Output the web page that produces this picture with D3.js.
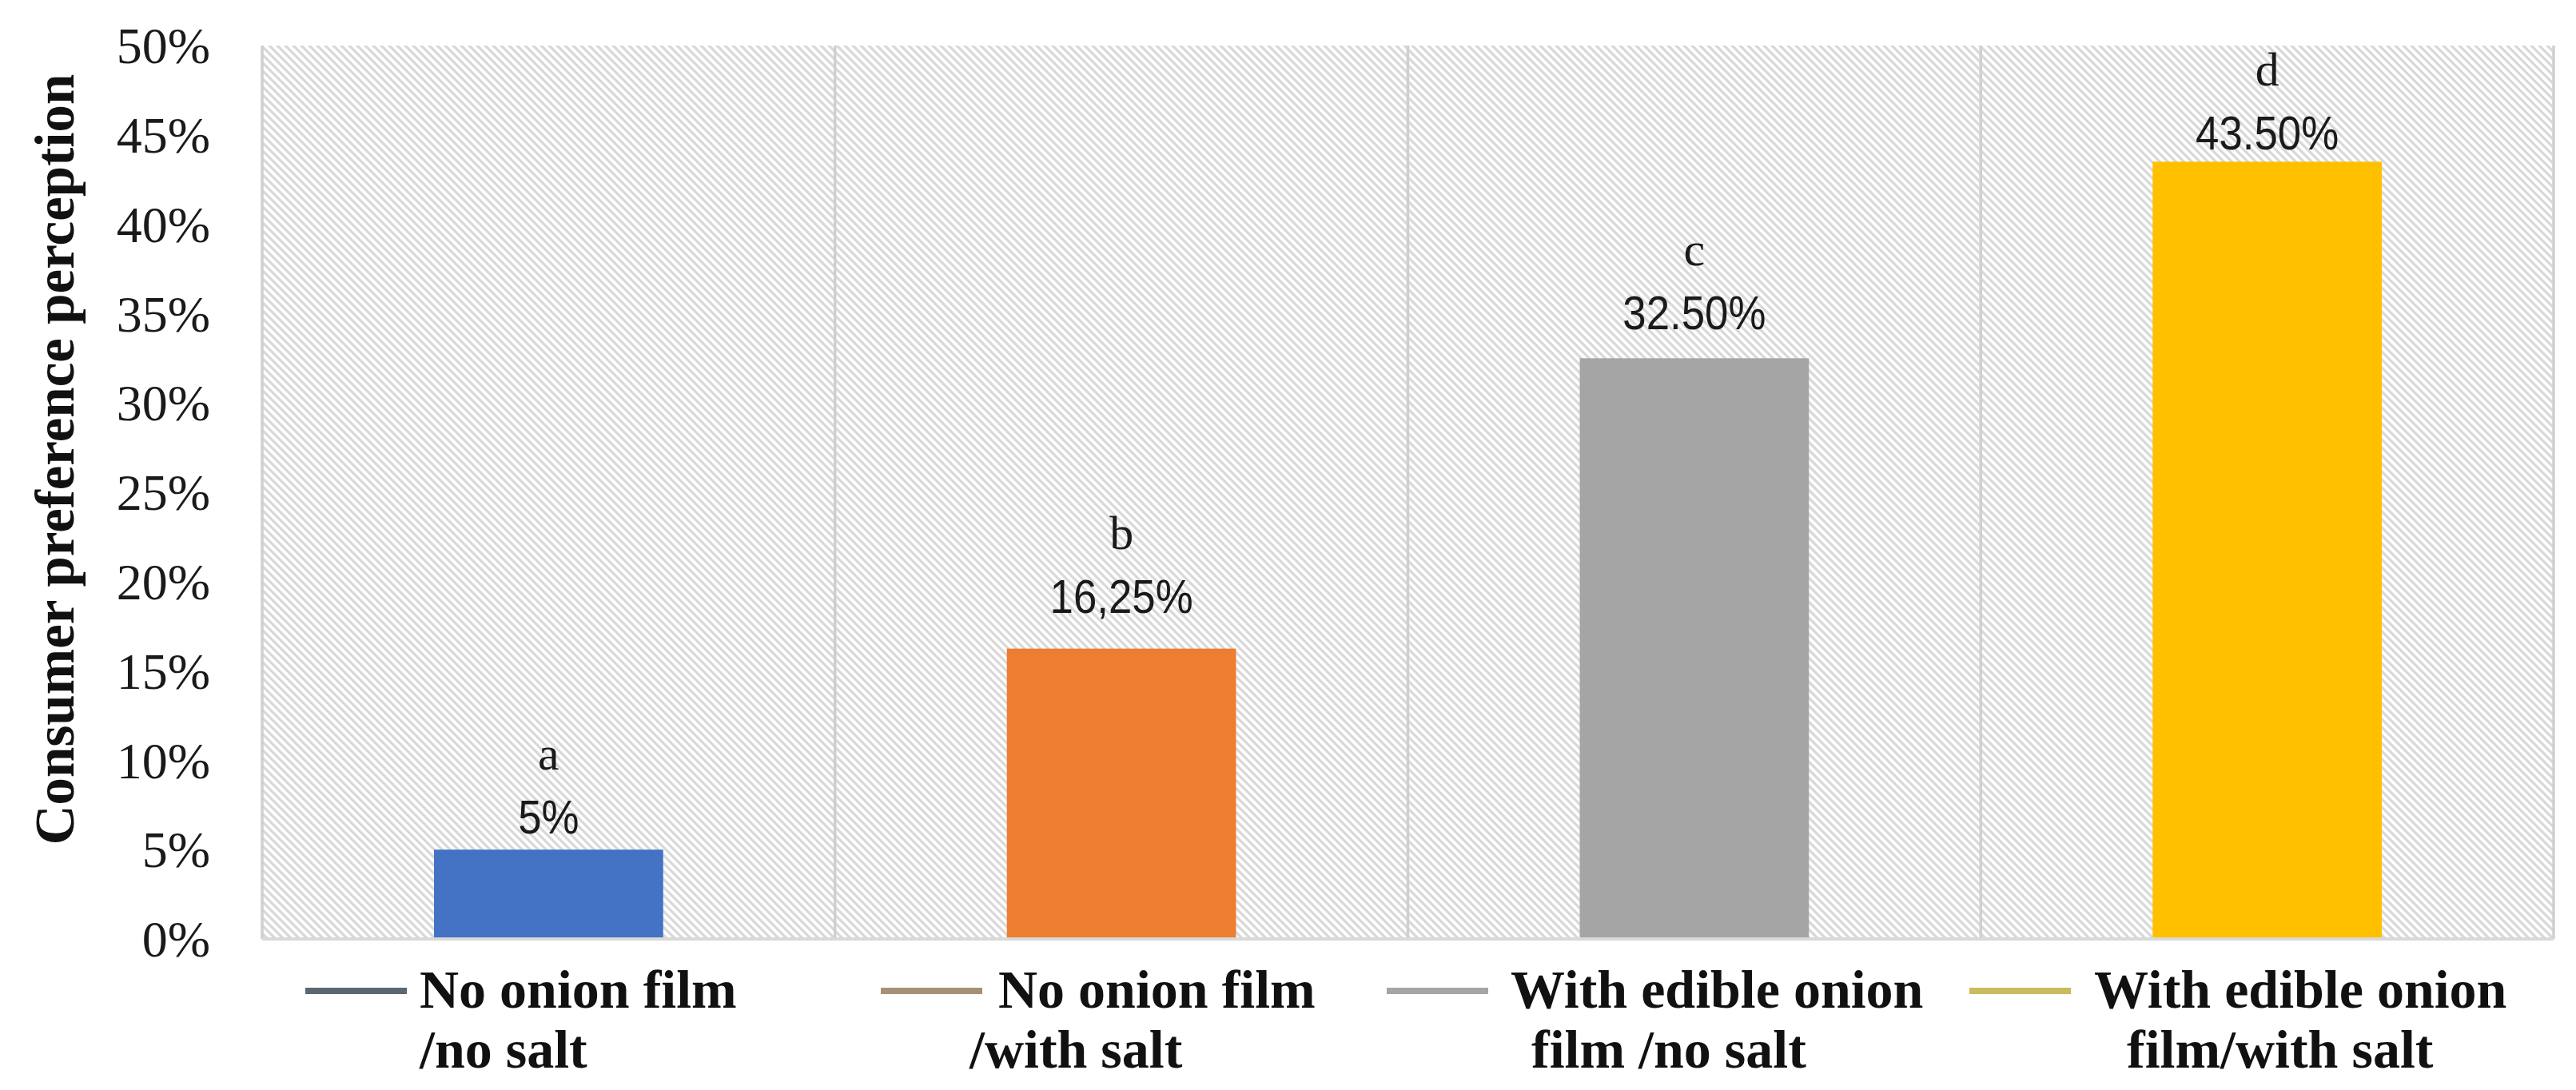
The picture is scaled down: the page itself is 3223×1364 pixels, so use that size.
<!DOCTYPE html>
<html>
<head>
<meta charset="utf-8">
<script src="https://cdn.jsdelivr.net/npm/d3@7"></script>
<style>
  html, body { margin: 0; padding: 0; background: #fff; }
  svg { display: block; }
</style>
</head>
<body>
<svg id="chart" width="3223" height="1364"></svg>
<script>
// ---------- data ----------
const categories = ["No onion film /no salt", "No onion film /with salt", "With edible onion film /no salt", "With edible onion film/with salt"];
const values = [5, 16.25, 32.5, 43.5];
const valueLabels = ["5%", "16,25%", "32.50%", "43.50%"];
const letters = ["a", "b", "c", "d"];
const yTicks = [0, 5, 10, 15, 20, 25, 30, 35, 40, 45, 50];
const yTitle = "Consumer preference perception";
const legendLines = [
  ["No onion film", "/no salt"],
  ["No onion film", "/with salt"],
  ["With edible onion", "film /no salt"],
  ["With edible onion", "film/with salt"]
];

// ---------- styles / layout ----------
const barColors = ["#4472C4", "#ED7D31", "#A5A5A5", "#FFC000"];
const legendColors = ["#5b6872", "#a69176", "#a5a5a5", "#c9bb5e"];
const labelGap = [20, 45, 36, 15];          // gap between value label baseline and bar top
const legendLineX = [382, 1102, 1735, 2464];
const legendTextX = [525, 1213, 1890, 2620];
const legendIndent = [[0, 0], [36, 0], [0, 26], [0, 41]];

const W = 3223, H = 1364;
const plot = { left: 328, right: 3195, top: 57, bottom: 1175 };

const svg = d3.select("#chart");

const x = d3.scaleBand().domain(categories).range([plot.left, plot.right]).paddingInner(0).paddingOuter(0);
const y = d3.scaleLinear().domain([0, 50]).range([plot.bottom, plot.top]);

// hatch pattern
const defs = svg.append("defs");
const pat = defs.append("pattern")
  .attr("id", "hatch")
  .attr("patternUnits", "userSpaceOnUse")
  .attr("width", 10).attr("height", 10);
pat.append("rect").attr("width", 10).attr("height", 10).attr("fill", "#ffffff");
pat.append("path")
  .attr("d", "M-3,-3 L13,13 M-3,7 L3,13 M7,-3 L13,3")
  .attr("stroke", "#d8d8d8")
  .attr("stroke-width", 3.2);

svg.append("rect").attr("width", W).attr("height", H).attr("fill", "#fff");

// plot area
svg.append("rect")
  .attr("x", plot.left).attr("y", plot.top)
  .attr("width", plot.right - plot.left).attr("height", plot.bottom - plot.top)
  .attr("fill", "url(#hatch)");

// vertical dividers (category boundaries)
const bounds = categories.map(c => x(c)).concat([plot.right]);
svg.append("g").selectAll("line").data(bounds).join("line")
  .attr("x1", d => d).attr("x2", d => d)
  .attr("y1", plot.top).attr("y2", plot.bottom)
  .attr("stroke", "#cfcfcf").attr("stroke-width", 3.5);

// bars
const bw = x.bandwidth() * 0.4;
svg.append("g").selectAll("rect").data(values).join("rect")
  .attr("x", (d, i) => x(categories[i]) + (x.bandwidth() - bw) / 2)
  .attr("y", d => y(d))
  .attr("width", bw)
  .attr("height", d => y(0) - y(d))
  .attr("fill", (d, i) => barColors[i]);

// x axis line
svg.append("line")
  .attr("x1", plot.left).attr("x2", plot.right)
  .attr("y1", y(0)).attr("y2", y(0))
  .attr("stroke", "#d9d9d9").attr("stroke-width", 4);

// y axis
const yAxis = d3.axisLeft(y).tickValues(yTicks).tickSize(0).tickPadding(65).tickFormat(d => d + "%");
const ga = svg.append("g").attr("transform", `translate(${plot.left},0)`).call(yAxis);
ga.select(".domain").remove();
ga.selectAll("text")
  .attr("font-family", "'Liberation Serif', 'Times New Roman', serif")
  .attr("font-size", 64)
  .attr("fill", "#1a1a1a")
  .attr("dy", "0.34em");

// y title
svg.append("text")
  .attr("transform", `translate(92, 575) rotate(-90)`)
  .attr("text-anchor", "middle")
  .attr("font-family", "'Liberation Serif', 'Times New Roman', serif")
  .attr("font-weight", "bold")
  .attr("font-size", 69)
  .attr("fill", "#111")
  .text(yTitle);

// data labels
const lab = svg.append("g");
values.forEach((v, i) => {
  const cx = x(categories[i]) + x.bandwidth() / 2;
  const base = y(v) - labelGap[i];
  lab.append("text")
    .attr("transform", `translate(${cx},${base}) scale(0.88,1)`)
    .attr("text-anchor", "middle")
    .attr("font-family", "'Liberation Sans', Arial, sans-serif")
    .attr("font-size", 60)
    .attr("fill", "#1a1a1a")
    .text(valueLabels[i]);
  lab.append("text")
    .attr("x", cx).attr("y", base - 80)
    .attr("text-anchor", "middle")
    .attr("font-family", "'Liberation Serif', 'Times New Roman', serif")
    .attr("font-size", 60)
    .attr("fill", "#1a1a1a")
    .text(letters[i]);
});

// legend
const lg = svg.append("g");
legendLines.forEach((lines, i) => {
  lg.append("line")
    .attr("x1", legendLineX[i]).attr("x2", legendLineX[i] + 127)
    .attr("y1", 1240).attr("y2", 1240)
    .attr("stroke", legendColors[i]).attr("stroke-width", 8);
  lines.forEach((t, j) => {
    lg.append("text")
      .attr("x", legendTextX[i] + legendIndent[i][j])
      .attr("y", 1261 + j * 75)
      .attr("font-family", "'Liberation Serif', 'Times New Roman', serif")
      .attr("font-weight", "bold")
      .attr("font-size", 68)
      .attr("fill", "#111")
      .text(t);
  });
});
</script>
</body>
</html>
